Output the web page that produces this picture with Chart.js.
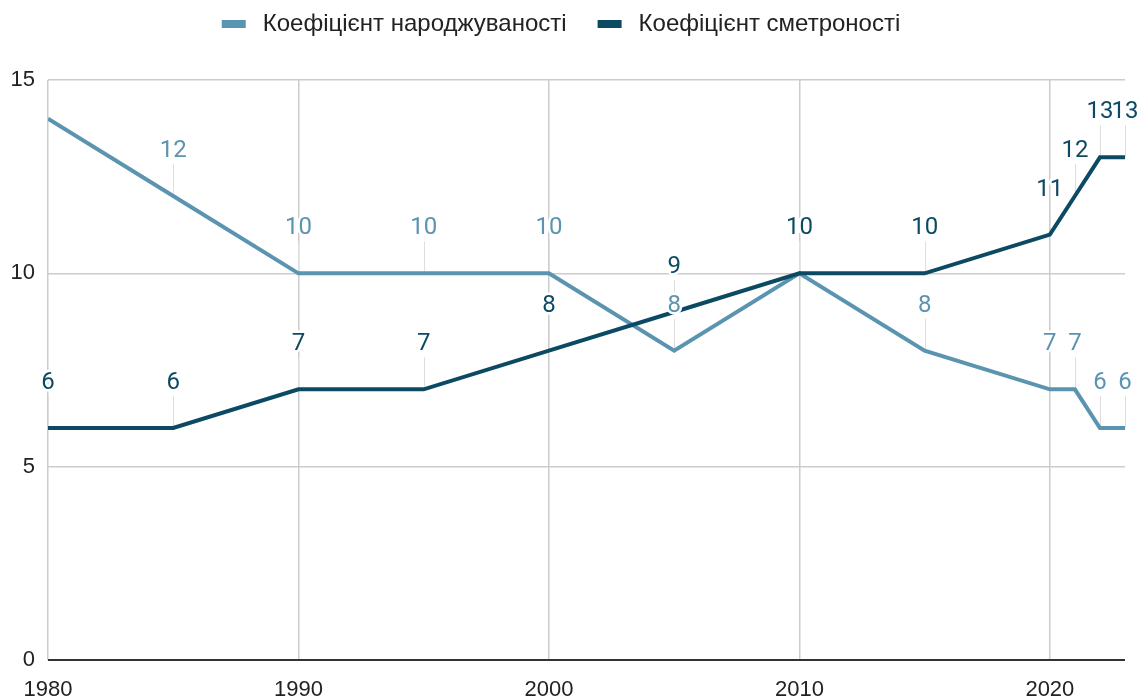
<!DOCTYPE html>
<html>
<head>
<meta charset="utf-8">
<script src="https://cdn.jsdelivr.net/npm/chart.js@4.4.0/dist/chart.umd.min.js"></script>
<style>
  html, body { margin: 0; padding: 0; background: #fff; }
  #wrap { width: 1142px; height: 699px; }
</style>
</head>
<body>
<div id="wrap"><canvas id="chartCanvas" width="1142" height="699"></canvas></div>
<script>
const years = [1980, 1985, 1990, 1995, 2000, 2005, 2010, 2015, 2020, 2021, 2022, 2023];
const birthRate = [14, 12, 10, 10, 10, 8, 10, 8, 7, 7, 6, 6];
const deathRate = [6, 6, 7, 7, 8, 9, 10, 10, 11, 12, 13, 13];
const seriesNames = ['Коефіцієнт народжуваності', 'Коефіцієнт сметроності'];
const xTicks = [1980, 1990, 2000, 2010, 2020];
const yTicks = [0, 5, 10, 15];

const birthColor = '#5b94b1';
const deathColor = '#0c4a64';
const labelLift = 45;

// labels above points with a thin stem, like the original
const pointLabels = {
    id: 'pointLabels',
    beforeDatasetsDraw(chart) {
        const ctx = chart.ctx;
        const area = chart.chartArea;
        ctx.save();
        ctx.strokeStyle = '#dedede';
        ctx.lineWidth = 1;
        chart.data.datasets.forEach((ds, i) => {
            chart.getDatasetMeta(i).data.forEach(pt => {
                if (pt.y - labelLift < area.top) return;
                ctx.beginPath();
                ctx.moveTo(Math.round(pt.x) + 0.5, pt.y);
                ctx.lineTo(Math.round(pt.x) + 0.5, pt.y - 32);
                ctx.stroke();
            });
        });
        ctx.restore();
    },
    afterDatasetsDraw(chart) {
        const ctx = chart.ctx;
        const area = chart.chartArea;
        ctx.save();
        ctx.font = '24px Roboto';
        ctx.textAlign = 'center';
        ctx.textBaseline = 'middle';
        ctx.lineJoin = 'round';
        chart.data.datasets.forEach((ds, i) => {
            chart.getDatasetMeta(i).data.forEach((pt, j) => {
                const ly = pt.y - labelLift;
                if (ly < area.top) return;
                const txt = String(ds.data[j].y);
                ctx.strokeStyle = '#fff';
                ctx.lineWidth = 5;
                ctx.strokeText(txt, pt.x, ly);
                ctx.fillStyle = ds.borderColor;
                ctx.fillText(txt, pt.x, ly);
            });
        });
        ctx.restore();
    }
};

// legend drawn by hand so the spacing matches
const topLegend = {
    id: 'topLegend',
    afterDraw(chart) {
        const ctx = chart.ctx;
        ctx.save();
        ctx.font = '24px "Liberation Sans"';
        ctx.textBaseline = 'middle';
        const items = chart.data.datasets.map(ds => ({ text: ds.label, color: ds.borderColor, w: ctx.measureText(ds.label).width }));
        const total = items.reduce((s, it) => s + 24 + 17 + it.w, 0) + 31 * (items.length - 1);
        let x = (chart.width - total) / 2 - 10;
        const y = 24;
        items.forEach(it => {
            ctx.fillStyle = it.color;
            ctx.fillRect(x, y - 4, 24, 8);
            x += 24 + 17;
            ctx.fillStyle = '#222';
            ctx.fillText(it.text, x, y);
            x += it.w + 31;
        });
        ctx.restore();
    }
};

const ctx = document.getElementById('chartCanvas').getContext('2d');
const chart = new Chart(ctx, {
    type: 'line',
    data: {
        datasets: [{
            label: seriesNames[0],
            data: years.map((y, i) => ({ x: y, y: birthRate[i] })),
            borderColor: birthColor,
            backgroundColor: birthColor,
            borderWidth: 4,
            pointRadius: 0,
            order: 2
        }, {
            label: seriesNames[1],
            data: years.map((y, i) => ({ x: y, y: deathRate[i] })),
            borderColor: deathColor,
            backgroundColor: deathColor,
            borderWidth: 4,
            pointRadius: 0,
            order: 1
        }]
    },
    options: {
        responsive: false,
        animation: false,
        layout: { padding: { left: 0, right: 17, top: 80, bottom: 0 } },
        scales: {
            x: {
                type: 'linear',
                min: 1980,
                max: 2023,
                afterBuildTicks: s => { s.ticks = xTicks.map(v => ({ value: v })); },
                afterFit: s => { s.height = 39; },
                grid: { color: '#cccccc', lineWidth: 1.5, tickLength: 0 },
                border: { display: false },
                ticks: {
                    padding: 17,
                    color: '#222',
                    font: { family: 'Liberation Sans', size: 22 },
                    maxRotation: 0,
                    callback: v => String(v)
                }
            },
            y: {
                min: 0,
                max: 15,
                afterBuildTicks: s => { s.ticks = yTicks.map(v => ({ value: v })); },
                afterFit: s => { s.width = 48; },
                grid: {
                    color: c => c.tick && c.tick.value === 0 ? '#333333' : '#cccccc',
                    lineWidth: c => c.tick && c.tick.value === 0 ? 2 : 1.5,
                    tickLength: 0
                },
                border: { display: false },
                ticks: {
                    padding: 13,
                    color: '#222',
                    font: { family: 'Liberation Sans', size: 22 }
                }
            }
        },
        plugins: {
            legend: { display: false },
            tooltip: { enabled: false }
        }
    },
    plugins: [pointLabels, topLegend]
});
</script>
</body>
</html>
